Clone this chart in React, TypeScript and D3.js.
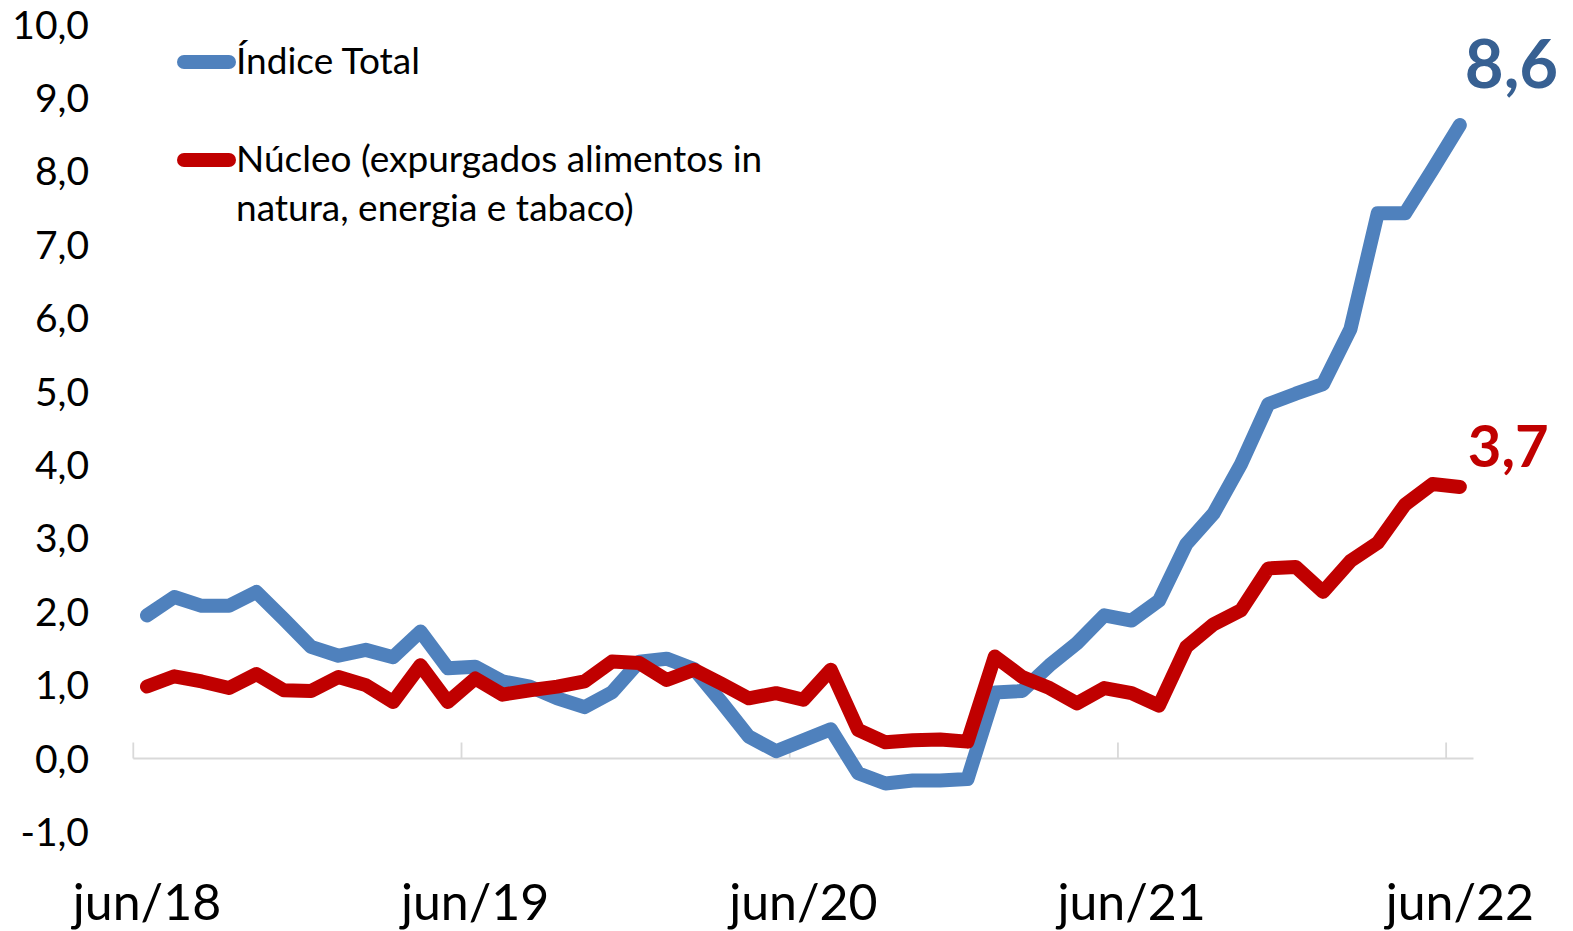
import React from "react";
import * as d3 from "d3";

const tickLabels: string[] = ["jun/18", "jun/19", "jun/20", "jun/21", "jun/22"];
const tickIndexes: number[] = [0, 12, 24, 36, 48];

const indiceTotal: number[] = [
  1.95, 2.2, 2.08, 2.08, 2.27, 1.9, 1.52, 1.4, 1.48, 1.38, 1.73, 1.23,
  1.25, 1.05, 0.98, 0.82, 0.7, 0.9, 1.32, 1.36, 1.22, 0.77, 0.3, 0.1,
  0.25, 0.4, -0.2, -0.34, -0.3, -0.3, -0.28, 0.9, 0.92, 1.27, 1.57, 1.95,
  1.88, 2.15, 2.92, 3.34, 4.01, 4.83, 4.97, 5.1, 5.85, 7.43, 7.43, 8.02, 8.63,
];

const nucleo: number[] = [
  0.98, 1.12, 1.05, 0.96, 1.15, 0.93, 0.92, 1.11, 1.0, 0.77, 1.27, 0.77,
  1.09, 0.87, 0.93, 0.98, 1.05, 1.32, 1.3, 1.07, 1.21, 1.02, 0.82, 0.89,
  0.8, 1.21, 0.39, 0.22, 0.25, 0.26, 0.23, 1.39, 1.11, 0.96, 0.75, 0.96,
  0.89, 0.72, 1.52, 1.83, 2.02, 2.59, 2.61, 2.27, 2.69, 2.94, 3.46, 3.74, 3.7,
];

const yTicks: number[] = [-1, 0, 1, 2, 3, 4, 5, 6, 7, 8, 9, 10];

const seriesNames: string[] = ["Índice Total", "Núcleo (expurgados alimentos in", "natura, energia e tabaco)"];
const endLabels: string[] = ["8,6", "3,7"];

const BLUE = "#4F81BD";
const RED = "#C00000";
const FONT = "Lato, 'Open Sans', sans-serif";

export default function App() {
  const W = 1573;
  const H = 931;
  const x = d3.scaleBand<number>().domain(d3.range(49)).range([133.3, 1473.5]).padding(0);
  const y = d3.scaleLinear().domain([-1, 10]).range([831.9, 24.5]);
  const cx = (i: number) => (x(i) as number) + x.bandwidth() / 2;

  const line = d3
    .line<number>()
    .x((_, i) => cx(i))
    .y((d) => y(d));

  const fmt = (v: number) => v.toFixed(1).replace(".", ",");
  const last = indiceTotal.length - 1;

  return (
    <svg
      width={W}
      height={H}
      style={{ position: "absolute", left: 0, top: 0, background: "#fff" }}
      fontFamily={FONT}
    >
      {yTicks.map((t) => (
        <text key={t} x={89} y={y(t)} dy="0.36em" textAnchor="end" fontSize={39} fill="#000">
          {fmt(t)}
        </text>
      ))}
      <line x1={x(0) as number} x2={(x(48) as number) + x.bandwidth()} y1={y(0)} y2={y(0)} stroke="#D9D9D9" strokeWidth={1.8} />
      {tickIndexes.map((i) => (
        <line key={i} x1={x(i) as number} x2={x(i) as number} y1={y(0)} y2={y(0) - 16} stroke="#D9D9D9" strokeWidth={1.8} />
      ))}
      {tickIndexes.map((i, k) => (
        <text key={i} x={cx(i)} y={920} textAnchor="middle" fontSize={50} fill="#000">
          {tickLabels[k]}
        </text>
      ))}
      <path d={line(indiceTotal) || ""} fill="none" stroke={BLUE} strokeWidth={14} strokeLinejoin="round" strokeLinecap="round" />
      <path d={line(nucleo) || ""} fill="none" stroke={RED} strokeWidth={14} strokeLinejoin="round" strokeLinecap="round" />
      <text x={cx(last) + 5} y={88} fontSize={67} fontWeight={700} fill="#376092">
        {endLabels[0]}
      </text>
      <text x={cx(last) + 8} y={467} fontSize={58} fontWeight={700} fill={RED}>
        {endLabels[1]}
      </text>
      <line x1={184} x2={229} y1={62} y2={62} stroke={BLUE} strokeWidth={14} strokeLinecap="round" />
      <text x={236} y={74} fontSize={37} fill="#000">
        {seriesNames[0]}
      </text>
      <line x1={184} x2={229} y1={160} y2={160} stroke={RED} strokeWidth={14} strokeLinecap="round" />
      <text x={236} y={172} fontSize={37} fill="#000">
        {seriesNames[1]}
      </text>
      <text x={236} y={221} fontSize={37} fill="#000">
        {seriesNames[2]}
      </text>
    </svg>
  );
}
